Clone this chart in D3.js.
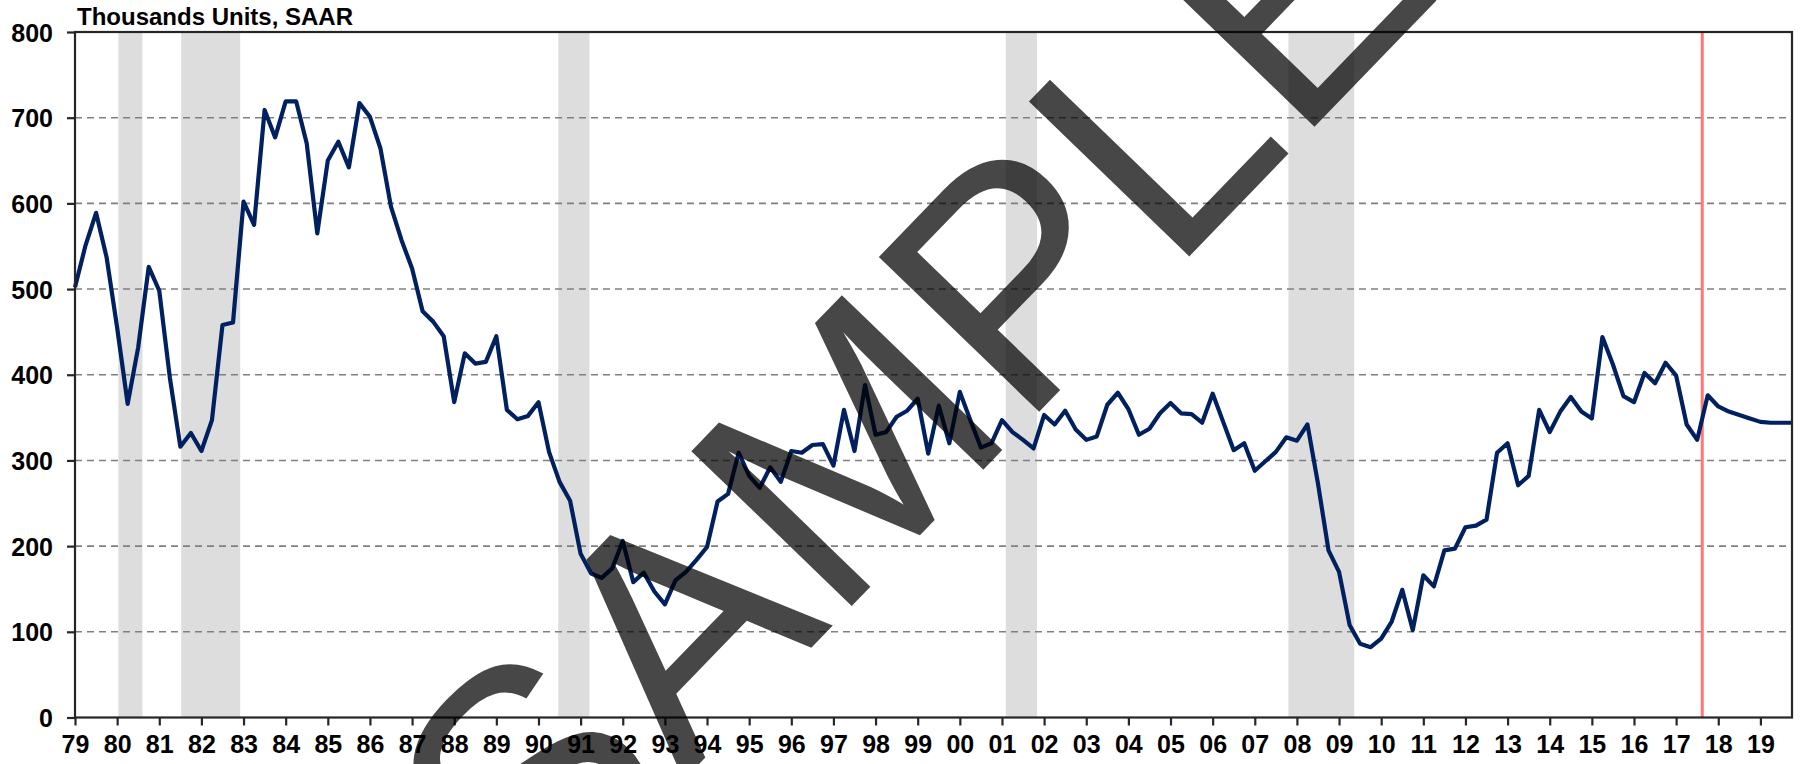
<!DOCTYPE html>
<html>
<head>
<meta charset="utf-8">
<script src="https://cdn.jsdelivr.net/npm/d3@7"></script>
<style>
  html, body { margin: 0; padding: 0; background: #ffffff; }
  svg { display: block; }
  text { font-family: "Liberation Sans", Arial, sans-serif; }
</style>
</head>
<body>
<svg id="chart" width="1808" height="764"></svg>
<script>
// Quarterly series, 1979 Q1 through 2019 Q4 (thousands of units, SAAR)
const startYear = 1979;
const values = [
  502, 551, 589, 537,   // 1979
  455, 366, 432, 526,   // 1980
  498, 397, 316, 332,   // 1981
  311, 347, 458, 461,   // 1982
  602, 575, 709, 677,   // 1983
  719, 719, 670, 565,   // 1984
  650, 672, 642, 717,   // 1985
  701, 664, 596, 557,   // 1986
  524, 474, 462, 445,   // 1987
  368, 425, 413, 415,   // 1988
  445, 359, 348, 352,   // 1989
  368, 310, 275, 253,   // 1990
  191, 168, 163, 174,   // 1991
  206, 158, 169, 147,   // 1992
  132, 160, 170, 184,   // 1993
  199, 252, 261, 309,   // 1994
  282, 268, 292, 275,   // 1995
  311, 309, 318, 319,   // 1996
  294, 359, 311, 388,   // 1997
  330, 333, 351, 358,   // 1998
  372, 308, 364, 320,   // 1999
  380, 347, 315, 320,   // 2000
  347, 333, 324, 314,   // 2001
  353, 342, 358, 336,   // 2002
  324, 328, 365, 379,   // 2003
  360, 330, 337, 355,   // 2004
  367, 355, 354, 344,   // 2005
  378, 345, 312, 320,   // 2006
  288, 299, 310, 327,   // 2007
  323, 342, 273, 195,   // 2008
  170, 108,  86,  82,   // 2009
   92, 112, 149, 102,   // 2010
  166, 153, 195, 197,   // 2011
  222, 224, 231, 309,   // 2012
  320, 271, 282, 359,   // 2013
  333, 357, 374, 357,   // 2014
  349, 444, 412, 375,   // 2015
  368, 402, 390, 414,   // 2016
  399, 342, 324, 376,   // 2017
  363, 357, 353, 349,   // 2018
  345, 344, 344, 344    // 2019
];

// Recession periods (fractional years)
const recessionStart = [1980.03, 1981.52, 1990.47, 2001.09, 2007.80];
const recessionEnd   = [1980.60, 1982.92, 1991.21, 2001.83, 2009.36];

// Vertical marker
const markerYear = 2017.62;

const yTicks = [0, 100, 200, 300, 400, 500, 600, 700, 800];
const xTickYears = d3.range(1979, 2020);
const titleText = "Thousands Units, SAAR";
const watermarkText = "SAMPLE";

const svg = d3.select("#chart");

const plot = { left: 75, right: 1792, top: 32, bottom: 717.5 };

const x = d3.scaleLinear().domain([1979, 2019.75]).range([plot.left, plot.right]);
const y = d3.scaleLinear().domain([0, 800]).range([plot.bottom, plot.top]);

const series = values.map((v, i) => ({ t: startYear + i / 4, v }));

// recession shading
svg.append("g").selectAll("rect")
  .data(recessionStart.map((s, i) => [s, recessionEnd[i]]))
  .join("rect")
  .attr("x", d => x(d[0]))
  .attr("width", d => x(d[1]) - x(d[0]))
  .attr("y", y(800))
  .attr("height", y(0) - y(800))
  .attr("fill", "#dddddd");

// dashed horizontal gridlines
svg.append("g").selectAll("line")
  .data(yTicks.filter(d => d > 0 && d < 800))
  .join("line")
  .attr("x1", plot.left).attr("x2", plot.right)
  .attr("y1", d => y(d)).attr("y2", d => y(d))
  .attr("stroke", "#808080")
  .attr("stroke-width", 1.6)
  .attr("stroke-dasharray", "7,5");

// forecast marker
svg.append("line")
  .attr("x1", x(markerYear)).attr("x2", x(markerYear))
  .attr("y1", y(800)).attr("y2", y(0))
  .attr("stroke", "#ff7777")
  .attr("stroke-width", 3);

// series line
svg.append("path")
  .datum(series)
  .attr("fill", "none")
  .attr("stroke", "#002060")
  .attr("stroke-width", 4.2)
  .attr("stroke-linejoin", "round")
  .attr("d", d3.line().x(d => x(d.t)).y(d => y(d.v)));

// frame
svg.append("rect")
  .attr("x", plot.left).attr("y", plot.top)
  .attr("width", plot.right - plot.left).attr("height", plot.bottom - plot.top)
  .attr("fill", "none")
  .attr("stroke", "#262626")
  .attr("stroke-width", 2.2);

// y axis
const yAxis = d3.axisLeft(y).tickValues(yTicks).tickSize(8).tickPadding(14)
  .tickFormat(d3.format("d"));
const gy = svg.append("g").attr("transform", `translate(${plot.left},0)`).call(yAxis);
gy.select(".domain").remove();
gy.selectAll(".tick line").attr("stroke", "#262626").attr("stroke-width", 2.2);
gy.selectAll(".tick text")
  .attr("fill", "#000")
  .style("font-size", "25px")
  .style("font-weight", "bold")
  .attr("dy", "0.36em");

// x axis
const xAxis = d3.axisBottom(x).tickValues(xTickYears).tickSize(8).tickPadding(10)
  .tickFormat(d => String(d).slice(2));
const gx = svg.append("g").attr("transform", `translate(0,${plot.bottom})`).call(xAxis);
gx.select(".domain").remove();
gx.selectAll(".tick line").attr("stroke", "#262626").attr("stroke-width", 2.2);
gx.selectAll(".tick text")
  .attr("fill", "#000")
  .style("font-size", "25px")
  .style("font-weight", "bold")
  .attr("dy", "0.71em");

// title
svg.append("text")
  .attr("x", 77).attr("y", 25)
  .style("font-size", "24px")
  .style("font-weight", "bold")
  .attr("fill", "#000")
  .text(titleText);

// watermark
svg.append("text")
  .attr("transform", "translate(533,936) rotate(-46)")
  .style("font-size", "324px")
  .attr("fill", "#000")
  .attr("fill-opacity", 0.72)
  .text(watermarkText);
</script>
</body>
</html>
